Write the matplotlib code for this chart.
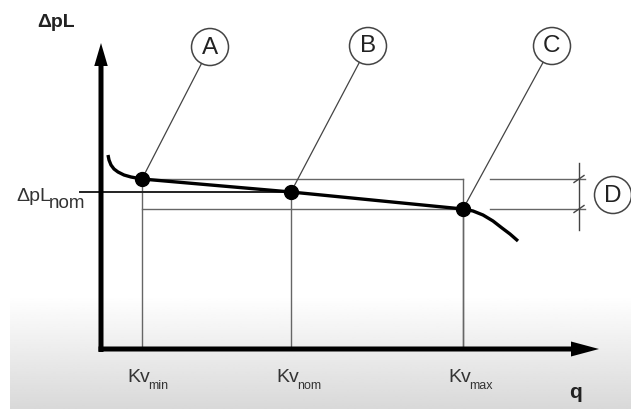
import numpy as np
import matplotlib
matplotlib.use("Agg")
import matplotlib.pyplot as plt
from matplotlib.patches import Circle
from matplotlib import font_manager

# ---------------- data (relative units) ----------------
kv_labels = ["min", "nom", "max"]
kv_q = [4.1, 19.0, 36.2]          # flow at Kv_min, Kv_nom, Kv_max
kv_dp = [17.0, 15.7, 14.0]        # ΔpL at points A, B, C
dp_nom = 15.7
point_names = ["A", "B", "C"]

q_curve = [0.7, 0.8, 1.0, 1.3, 1.7, 2.3, 3.0, 4.1, 19.0, 36.2, 37.2, 38.2, 39.2, 40.1, 40.9, 41.7]
dp_curve = [19.4, 18.9, 18.4, 18.0, 17.7, 17.4, 17.2, 17.0, 15.7, 14.0, 13.8, 13.4, 12.8, 12.1, 11.5, 10.8]

# ---------------- figure ----------------
W, H = 631, 409
fig = plt.figure(figsize=(W / 100, H / 100), dpi=100)
ax = fig.add_axes([0, 0, 1, 1])
ox, oy, s = 101, 349, 10.0        # origin pixel and px per unit
ax.set_xlim(-ox / s, (W - ox) / s)
ax.set_ylim(-(H - oy) / s, oy / s)
ax.axis("off")

names = {f.name for f in font_manager.fontManager.ttflist}
base = "Liberation Sans" if "Liberation Sans" in names else "DejaVu Sans"
narrow = "Liberation Sans Narrow" if "Liberation Sans Narrow" in names else base

# background gradient at the bottom
grad = np.linspace(1.0, 0.85, 64).reshape(-1, 1)
ax.imshow(grad, cmap="gray", vmin=0, vmax=1, aspect="auto",
          extent=(-9.1, (W - ox) / s, -(H - oy) / s, (oy - 295) / s),
          zorder=0, origin="upper", interpolation="bilinear")

thin = dict(color="#666666", lw=1.0, zorder=2)

# thin box lines
ax.plot([kv_q[0], kv_q[2]], [kv_dp[0], kv_dp[0]], **thin)
ax.plot([kv_q[0], kv_q[2]], [kv_dp[2], kv_dp[2]], **thin)
ax.plot([kv_q[2], kv_q[2]], [0, kv_dp[0]], **thin)
for q, d in zip(kv_q, kv_dp):
    ax.plot([q, q], [0, d], **thin)

# nominal ΔpL line
ax.plot([-2.1, kv_q[1]], [dp_nom, dp_nom], color="#222222", lw=1.4, zorder=3)

# curve
ax.plot(q_curve, dp_curve, color="black", lw=2.4, zorder=4, solid_capstyle="butt")
ax.plot(kv_q, kv_dp, "o", color="black", ms=10, zorder=5)

# axes arrows
ax.arrow(0, -0.3, 0, 30.9, width=0.5, head_width=1.35, head_length=2.3,
         length_includes_head=True, color="black", zorder=6, lw=0)
ax.arrow(-0.25, 0, 50.05, 0, width=0.5, head_width=1.5, head_length=2.8,
         length_includes_head=True, color="black", zorder=6, lw=0)

# circles with labels and leader lines
centers = [(10.9, 30.2), (26.7, 30.3), (45.1, 30.3)]
R = 1.85
for (cx, cy), q, d, nm in zip(centers, kv_q, kv_dp, point_names):
    ax.add_patch(Circle((cx, cy), R, fill=False, ec="#444444", lw=1.1, zorder=3))
    ax.text(cx, cy - 0.05, nm, ha="center", va="center", fontsize=17.5, family=base, color="#222222")
    v = np.array([q - cx, d - cy])
    u = v / np.hypot(*v)
    ax.plot([cx + u[0] * R, q], [cy + u[1] * R, d], color="#444444", lw=0.9, zorder=3)

# D dimension
dx0, dx1, dxv = 38.9, 48.4, 47.8
ax.plot([dx0, dx1], [kv_dp[0], kv_dp[0]], **thin)
ax.plot([dx0, dx1], [kv_dp[2], kv_dp[2]], **thin)
ax.plot([dxv, dxv], [11.9, 18.6], color="#444444", lw=1.0)
for yy in (kv_dp[0], kv_dp[2]):
    ax.plot([dxv - 0.5, dxv + 0.5], [yy - 0.35, yy + 0.35], color="#444444", lw=1.0)
ax.add_patch(Circle((51.2, 15.4), R, fill=False, ec="#444444", lw=1.1, zorder=3))
ax.text(51.2, 15.35, "D", ha="center", va="center", fontsize=17.5, family=base, color="#222222")

# axis titles
ax.text(-4.45, 32.2, "ΔpL", ha="center", va="baseline", fontsize=14,
        fontweight="bold", family=base, color="#222222")
ax.text(47.5, -4.95, "q", ha="center", va="baseline", fontsize=15,
        fontweight="bold", family=base, color="#222222")

# ΔpL_nom label
t = ax.text(-8.5, 14.8, "ΔpL", ha="left", va="baseline", fontsize=14,
            family=base, color="#333333")
ax.annotate("nom", xy=(1, 0), xycoords=t, xytext=(-1.5, -5), textcoords="offset points",
            ha="left", va="bottom", fontsize=13.5, family=base, color="#333333")

# Kv labels
for q, lab in zip(kv_q, kv_labels):
    tk = ax.text(q - 1.5, -3.3, "Kv", ha="left", va="baseline", fontsize=14,
                 family=base, color="#333333")
    ax.annotate(lab, xy=(1, 0), xycoords=tk, xytext=(-1.5, -4), textcoords="offset points",
                ha="left", va="bottom", fontsize=9, family=narrow, color="#333333")

fig.savefig("out.png", dpi=100)
